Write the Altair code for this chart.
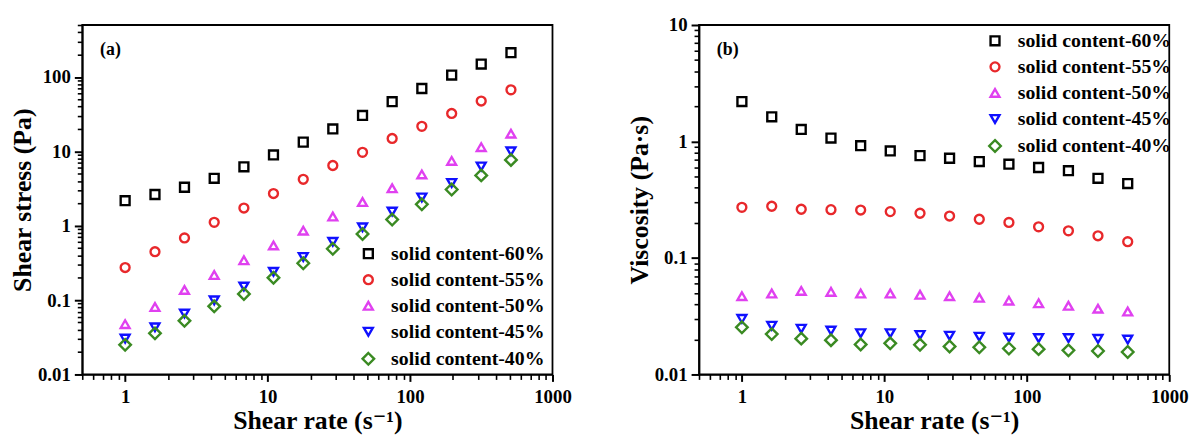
import altair as alt
import pandas as pd

FONT = "Liberation Serif, Times New Roman, DejaVu Serif"

names = ["solid content-60%", "solid content-55%", "solid content-50%",
         "solid content-45%", "solid content-40%"]
colors = ["#000000", "#e8282b", "#e040f0", "#1010ff", "#3a8a22"]
shapes = ["square", "circle", "triangle-up", "triangle-down", "M0,-1.3L1.3,0L0,1.3L-1.3,0Z"]

rate = [1.0, 1.62, 2.61, 4.22, 6.82, 11.0, 17.8, 28.7, 46.4, 74.9, 121, 196, 316, 511]

stress60 = [2.17, 2.63, 3.29, 4.34, 6.19, 8.94, 13.3, 20.0, 30.4, 46.6, 70.0, 106, 149, 212]
stress55 = [0.274, 0.447, 0.686, 1.11, 1.73, 2.71, 4.21, 6.45, 9.70, 14.9, 21.7, 32.3, 47.5, 67.2]
stress50 = [0.0475, 0.0807, 0.137, 0.217, 0.343, 0.543, 0.859, 1.33, 2.08, 3.19, 4.90, 7.45, 11.4, 17.3]
stress45 = [0.0303, 0.0430, 0.0659, 0.0990, 0.152, 0.240, 0.380, 0.607, 0.95, 1.55, 2.40, 3.76, 6.25, 10.0]
stress40 = [0.025, 0.0357, 0.0526, 0.0824, 0.121, 0.200, 0.313, 0.490, 0.775, 1.21, 1.94, 3.07, 4.75, 7.67]

visc60 = [2.20, 1.63, 1.27, 1.07, 0.92, 0.83, 0.756, 0.718, 0.673, 0.638, 0.598, 0.561, 0.483, 0.435]
visc55 = [0.272, 0.278, 0.262, 0.260, 0.258, 0.250, 0.242, 0.229, 0.215, 0.202, 0.185, 0.171, 0.155, 0.138]
visc50 = [0.047, 0.0495, 0.0522, 0.0512, 0.0495, 0.0495, 0.0483, 0.047, 0.0455, 0.043, 0.0408, 0.0389, 0.0367, 0.0347]
visc45 = [0.030, 0.0262, 0.0247, 0.0238, 0.0226, 0.0226, 0.0218, 0.0215, 0.0211, 0.0207, 0.0205, 0.0205, 0.0202, 0.0199]
visc40 = [0.0254, 0.0222, 0.0203, 0.0197, 0.0181, 0.0185, 0.0180, 0.0174, 0.0171, 0.0167, 0.0165, 0.0161, 0.0159, 0.0156]

x_major = [1, 10, 100, 1000]
x_minor = [0.5, 0.6, 0.7, 0.8, 0.9,
           2, 3, 4, 5, 6, 7, 8, 9,
           20, 30, 40, 50, 60, 70, 80, 90,
           200, 300, 400, 500, 600, 700, 800, 900]
y1_major = [0.01, 0.1, 1, 10, 100]
y1_minor = [0.02, 0.03, 0.04, 0.05, 0.06, 0.07, 0.08, 0.09,
            0.2, 0.3, 0.4, 0.5, 0.6, 0.7, 0.8, 0.9,
            2, 3, 4, 5, 6, 7, 8, 9,
            20, 30, 40, 50, 60, 70, 80, 90,
            200, 300, 400, 500]
y2_major = [0.01, 0.1, 1, 10]
y2_minor = [0.02, 0.03, 0.04, 0.05, 0.06, 0.07, 0.08, 0.09,
            0.2, 0.3, 0.4, 0.5, 0.6, 0.7, 0.8, 0.9,
            2, 3, 4, 5, 6, 7, 8, 9]

rows1 = []
rows2 = []
for name, s, v in zip(names, [stress60, stress55, stress50, stress45, stress40],
                      [visc60, visc55, visc50, visc45, visc40]):
    for r, a, b in zip(rate, s, v):
        rows1.append({"rate": r, "val": a, "series": name})
        rows2.append({"rate": r, "val": b, "series": name})
df1 = pd.DataFrame(rows1)
df2 = pd.DataFrame(rows2)


def major_axis(values, title, orient, label_pad, title_pad, size):
    return alt.Axis(
        values=values, title=title, orient=orient, grid=False, format="~g",
        ticks=True, tickSize=size, labelOverlap=False, labelFlush=False,
        labelFont=FONT, labelFontSize=19, labelFontWeight="bold", labelColor="black",
        labelPadding=label_pad,
        titleFont=FONT, titleFontSize=26, titleFontWeight="bold", titleColor="black",
        titlePadding=title_pad,
        domainColor="black", domainWidth=1.8, tickColor="black", tickWidth=2,
    )


def minor_axis(values, orient):
    return alt.Axis(values=values, title=None, orient=orient, grid=False, labels=False,
                    domain=False, ticks=True, tickSize=5, tickColor="black", tickWidth=1.6)


def panel(df, ytitle, ydomain, ymaj, ymin, leg_x, leg_y, tag):
    xs = alt.Scale(type="log", domain=[0.5, 1000], nice=False)
    ys = alt.Scale(type="log", domain=ydomain, nice=False)
    leg = alt.Legend(title=None, orient="none", legendX=leg_x, legendY=leg_y,
                     labelFont=FONT, labelFontSize=20, labelFontWeight="bold",
                     labelColor="black", symbolSize=81, symbolStrokeWidth=2.4,
                     rowPadding=6.3, labelOffset=13, padding=0)
    minor = alt.Chart(df).mark_point(opacity=0).encode(
        x=alt.X("rate:Q", scale=xs, axis=minor_axis(x_minor, "bottom")),
        y=alt.Y("val:Q", scale=ys, axis=minor_axis(ymin, "left")),
    )
    pts = alt.Chart(df).mark_point(filled=False, size=81, strokeWidth=2.4, opacity=1).encode(
        x=alt.X("rate:Q", scale=xs,
                axis=major_axis(x_major, "Shear rate (s⁻¹)", "bottom", 6, 2, 7)),
        y=alt.Y("val:Q", scale=ys,
                axis=major_axis(ymaj, ytitle, "left", 4, 2, 8)),
        color=alt.Color("series:N", scale=alt.Scale(domain=names, range=colors), legend=leg),
        shape=alt.Shape("series:N", scale=alt.Scale(domain=names, range=shapes), legend=leg),
    )
    lab = alt.Chart(pd.DataFrame({"t": [tag]})).mark_text(
        font=FONT, fontSize=18, fontWeight="bold", color="black", align="left", baseline="middle"
    ).encode(x=alt.value(18), y=alt.value(25), text="t:N")
    return alt.layer(minor, pts, lab).resolve_axis(
        x="independent", y="independent"
    ).properties(width=475, height=353)


left = panel(df1, "Shear stress (Pa)", [0.01, 500], y1_major, y1_minor, 279, 221, "(a)")
right = panel(df2, "Viscosity (Pa·s)", [0.01, 10], y2_major, y2_minor, 289, 6, "(b)")

chart = alt.hconcat(left, right, spacing=148, bounds="flush").resolve_scale(
    color="independent", shape="independent"
).resolve_legend(color="independent", shape="independent").properties(
    padding={"left": 0, "top": 5, "right": 5, "bottom": 0}
).configure_view(stroke="black", strokeWidth=1.8)

chart.save("out.html", embed_options={"renderer": "svg", "actions": False})
